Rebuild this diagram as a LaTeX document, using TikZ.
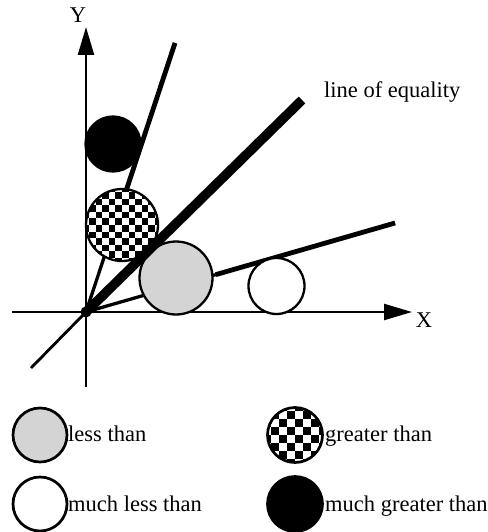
\documentclass[tikz,border=0pt]{standalone}
\usepackage{fontspec}
\setmainfont{Liberation Serif}
\usetikzlibrary{arrows.meta,calc}
\begin{document}
\begin{tikzpicture}[x=1pt,y=-1pt,
  axis/.style={line width=2.3pt,-{Triangle[length=28pt,width=16pt]}},
  ray/.style={line width=3.3pt},
  rayhi/.style={line width=4.8pt},
  eqline/.style={line width=9.5pt},
  ball/.style={circle,draw,line width=2.3pt,inner sep=0pt,minimum size=#1},
  lgball/.style={circle,draw,line width=2.7pt,inner sep=0pt,minimum size=#1},
  stipple/.style={fill=black!17},
  checker/.style={path picture={
    \foreach \i in {-7,...,6}{\foreach \j in {-7,...,6}{
      \pgfmathtruncatemacro{\ckpar}{mod(\i+\j+20,2)}
      \ifnum\ckpar=0
        \fill[black] (path picture bounding box.center) ++(\i*#1,\j*#1) rectangle ++(#1,#1);
      \fi}}}},
  lbl/.style={font=\fontsize{22.5}{26}\selectfont,inner sep=0pt},
  txt/.style={lbl,anchor=base west}
]
\useasboundingbox (0,0) rectangle (487,532);

% coordinates
\coordinate (O) at (86,312);
\coordinate (Yb) at (86,387);
\coordinate (Yt) at (86,27);
\coordinate (Xl) at (12,312);
\coordinate (Xr) at (412,312);
\coordinate (S) at (175,43);
\coordinate (E) at (302,100);
\coordinate (H) at (395,223);
\coordinate (L) at (31,368);

% axes
\draw[axis] (Yb) -- (Yt);
\draw[axis] (Xl) -- (Xr);
\node[lbl] (ylab) at (78,15.5) {Y};
\node[lbl] (xlab) at (424,320) {X};

% rays
\draw[ray] (O) -- (S);
\draw[rayhi] ($(O)!0.45!(S)$) -- (S);
\draw[ray] (O) -- (H);
\draw[rayhi] ($(O)!0.42!(H)$) -- (H);
\draw[line width=2.8pt] (O) -- (L);

% circles in the plot
\node[ball=55pt,fill=black] (mg) at (113,144) {};
\node[ball=72pt,fill=white,checker=6.6] (gt) at (122,225) {};
\node[ball=73pt,stipple] (lt) at (176,278) {};
\node[ball=56pt,fill=white] (ml) at (276.5,286) {};

% line of equality
\draw[eqline] (O) -- (E);
\fill (O) circle (5.5);
\node[txt] (eqlab) at (324,98) {line of equality};

% legend
\node[lgball=54pt,stipple] (lgLess) at (40,435) {};
\node[txt] (tLess) at (68,441) {less than};
\node[lgball=55pt,fill=white,checker=8] (lgGreat) at (295,435) {};
\node[txt] (tGreat) at (325,441) {greater than};
\node[lgball=54pt,fill=white] (lgMLess) at (40,504) {};
\node[txt] (tMLess) at (68,511.5) {much less than};
\node[lgball=55pt,fill=black] (lgMGreat) at (295,504) {};
\node[txt] (tMGreat) at (325,511.5) {much greater than};
\end{tikzpicture}
\end{document}
